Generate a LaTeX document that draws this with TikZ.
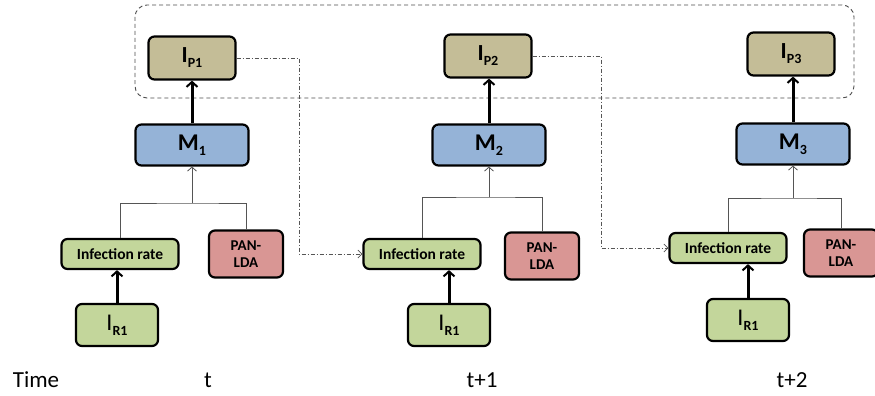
\documentclass[tikz,border=0pt]{standalone}
\usepackage{fontspec}
\setmainfont{Carlito}
\usetikzlibrary{arrows.meta}
\definecolor{ptan}{HTML}{C4BD97}
\definecolor{mblue}{HTML}{95B3D7}
\definecolor{rgreen}{HTML}{C3D69B}
\definecolor{lpink}{HTML}{D99694}
\definecolor{linkgray}{HTML}{555555}
\newcommand{\lowsub}[1]{\raisebox{-0.45ex}{\fontsize{14}{14}\selectfont\bfseries #1}}
\begin{document}
\begin{tikzpicture}[x=1pt,y=-1pt,
  box/.style={draw=black, line width=2.2pt, rounded corners=6pt, inner sep=0pt, align=center},
  pbox/.style={box, fill=ptan, minimum width=87pt, minimum height=43pt, font=\fontsize{23}{24}\selectfont\bfseries},
  mbox/.style={box, fill=mblue, minimum width=113pt, minimum height=41pt, font=\fontsize{24}{25}\selectfont\bfseries},
  ratebox/.style={box, fill=rgreen, minimum width=117pt, minimum height=30pt, font=\fontsize{15.5}{16}\selectfont\bfseries},
  ldabox/.style={box, fill=lpink, minimum width=74pt, minimum height=47pt, font=\fontsize{15}{17}\selectfont\bfseries},
  rbox/.style={box, fill=rgreen, minimum width=82pt, minimum height=42pt, font=\fontsize{24}{25}\selectfont},
  timelabel/.style={font=\fontsize{23}{24}\selectfont},
  boldup/.style={-{Straight Barb[length=5pt,width=11pt,line width=2pt]}, line width=3pt},
  thinup/.style={-{Straight Barb[length=4pt,width=9pt]}, linkgray, line width=0.8pt},
  link/.style={linkgray, line width=0.7pt, dash pattern=on 4pt off 2pt on 1pt off 2pt,
               -{Straight Barb[length=4pt,width=8pt]}}
]
  \useasboundingbox (0,0) rectangle (875,396);

  % group of predicted infections
  \draw[gray!60!black, line width=0.9pt, dash pattern=on 4pt off 3pt, rounded corners=12pt] (135,5) rectangle (854,98);

  % time t
  \node[pbox] (ip1) at (192,58) {I\lowsub{P1}};
  \node[mbox] (m1) at (192,145) {M\lowsub{1}};
  \node[ratebox] (inf1) at (120,254) {Infection rate};
  \node[ldabox] (pan1) at (246,254) {PAN-\\LDA};
  \node[rbox] (ir1) at (117,325) {I\lowsub{R1}};
  \coordinate (j1) at (192,203);
  \coordinate (d1) at (299,254);

  % time t+1
  \node[pbox] (ip2) at (488,56) {I\lowsub{P2}};
  \node[mbox] (m2) at (489,145) {M\lowsub{2}};
  \node[ratebox] (inf2) at (422,254) {Infection rate};
  \node[ldabox] (pan2) at (542,256) {PAN-\\LDA};
  \node[rbox] (ir2) at (449,325) {I\lowsub{R1}};
  \coordinate (j2) at (489,197);
  \coordinate (d2) at (601,248);

  % time t+2
  \node[pbox] (ip3) at (791,54) {I\lowsub{P3}};
  \node[mbox] (m3) at (793,144) {M\lowsub{3}};
  \node[ratebox] (inf3) at (728,248) {Infection rate};
  \node[ldabox] (pan3) at (841,253) {PAN-\\LDA};
  \node[rbox] (ir3) at (748,320) {I\lowsub{R1}};
  \coordinate (j3) at (793,198);

  \foreach \i in {1,2,3} {
      \draw[boldup] (ir\i.north) -- (ir\i.north |- inf\i.south);
      \draw[boldup] (m\i.north) -- (m\i.north |- ip\i.south);
      \draw[linkgray, line width=0.8pt] (inf\i.north) |- (j\i) -| (pan\i.north);
      \draw[thinup] (j\i) -- (m\i.south);
  }

  % carry over to next step
  \draw[link] (ip1.east) -| (d1) -- (inf2.west);
  \draw[link] (ip2.east) -| (d2) -- (inf3.west);

  \node[timelabel] (time) at (36,380) {Time};
  \node[timelabel] (t1) at (208,380) {t};
  \node[timelabel] (t2) at (482,380) {t+1};
  \node[timelabel] (t3) at (792,380) {t+2};
\end{tikzpicture}
\end{document}
